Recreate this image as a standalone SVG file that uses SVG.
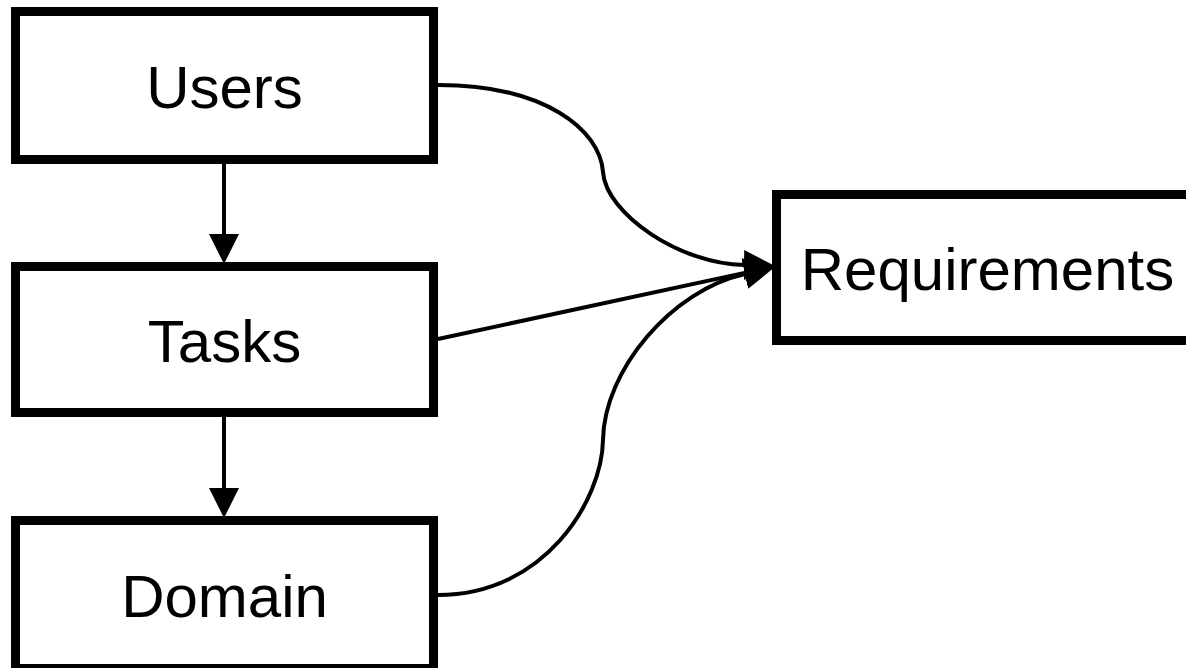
<svg xmlns="http://www.w3.org/2000/svg" width="1186" height="668" viewBox="0 0 1186 668">
<style>
.box{fill:#fff;stroke:#000;stroke-width:9}
.lbl{font-family:"Liberation Sans",Arial,sans-serif;font-size:60px;fill:#000;text-anchor:middle}
.edge{fill:none;stroke:#000;stroke-width:4}
</style>
<defs>
<marker id="ah" markerUnits="userSpaceOnUse" markerWidth="30" markerHeight="30" refX="0" refY="14" orient="auto" viewBox="0 0 28 28">
<path d="M0,0 L28,14 L0,28 z" fill="#000"/>
</marker>
</defs>
<rect width="1186" height="668" fill="#fff"/>
<g id="connectors">
<path class="edge" d="M224,164 L224,234" marker-end="url(#ah)"/>
<path class="edge" d="M224,417 L224,488" marker-end="url(#ah)"/>
<path class="edge" d="M438,85 C545,85 600,130 603,172 C606,214 680,264 744,265" marker-end="url(#ah)"/>
<path class="edge" d="M438,339 L744.6,272.9" marker-end="url(#ah)"/>
<path class="edge" d="M438,595 C545,595 602,500 603,440 C604,370 672,290 745,274" marker-end="url(#ah)"/>
</g>
<g id="users">
<rect class="box" x="15.5" y="11.5" width="418" height="148"/>
<text class="lbl" x="224.5" y="108">Users</text>
</g>
<g id="tasks">
<rect class="box" x="15.5" y="266.5" width="418" height="146"/>
<text class="lbl" x="224.5" y="362">Tasks</text>
</g>
<g id="domain">
<rect class="box" x="15.5" y="520.5" width="418" height="148"/>
<text class="lbl" x="224.5" y="617">Domain</text>
</g>
<g id="requirements">
<rect class="box" x="776.5" y="194.5" width="422" height="146"/>
<text class="lbl" x="987.5" y="290">Requirements</text>
</g>
</svg>
